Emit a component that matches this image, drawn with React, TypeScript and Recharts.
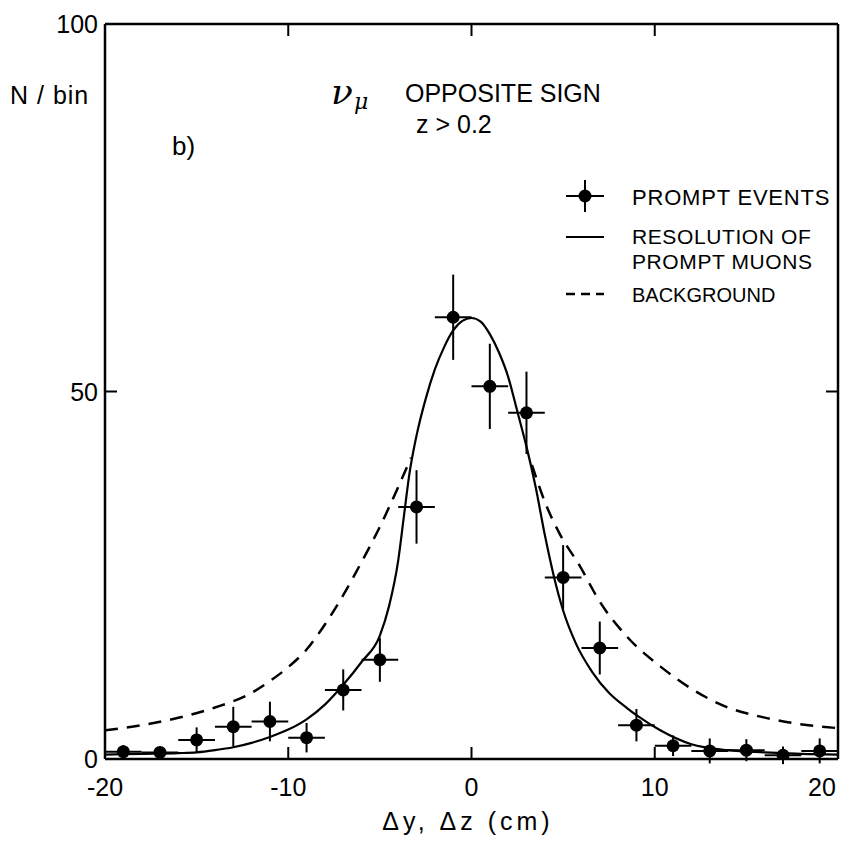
import React from "react";
import { ComposedChart, Line, Scatter, ErrorBar, XAxis, YAxis } from "recharts";

// prompt events, 2 cm bins
const binCenters = [-19, -17, -15, -13, -11, -9, -7, -5, -3, -1, 1, 3, 5, 7, 9, 11, 13, 15, 17, 19];
const promptCounts = [1.0, 0.9, 2.6, 4.4, 5.1, 2.9, 9.4, 13.5, 34.3, 60.1, 50.7, 47.1, 24.7, 15.1, 4.6, 1.8, 1.1, 1.2, 0.5, 1.1];
const countErrors = [0.9, 0.8, 1.7, 2.7, 2.7, 2.0, 2.8, 3.0, 5.0, 5.8, 5.8, 5.6, 4.4, 3.6, 2.2, 1.4, 1.7, 1.5, 1.2, 1.7];
const binHalfWidth = 1;

// resolution of prompt muons (solid)
const resolutionX = [-20, -18, -16, -15, -14, -13, -12, -11, -10, -9, -8, -7, -6, -5, -4.5, -4, -3.7, -3.4, -3, -2.5, -2, -1.5, -1, -0.5, 0, 0.5, 1, 1.5, 2, 2.5, 3, 3.5, 4, 4.5, 5, 5.7, 6.6, 7.5, 8.5, 9.1, 10.3, 12, 14, 16, 18, 20];
const resolutionY = [0.6, 0.7, 0.8, 0.9, 1.2, 1.6, 2.2, 3.0, 4.0, 5.4, 7.4, 10.1, 13.2, 16.8, 20.8, 27, 32.8, 38.6, 44, 49, 53, 56, 58.3, 59.6, 60, 59.5, 57.8, 55.3, 52, 47.3, 42.5, 37, 30.5, 24.8, 20.2, 15.7, 11.8, 9.0, 6.9, 5.8, 3.9, 2.0, 1.2, 0.9, 0.7, 0.6];

// background (dashed), hidden under the peak
const backgroundX = [-20, -18, -16, -14, -12, -11, -10, -9, -8, -7, -6, -5, -4, -3.3, 0, 3.3, 4, 4.8, 5.9, 7, 8.5, 10.3, 12.1, 13.9, 15.7, 17.5, 20];
const backgroundY = [3.9, 4.6, 5.6, 7.0, 9.0, 10.6, 12.5, 14.9, 18.3, 22.3, 26.8, 31.6, 37.0, 41.0, null, 40.0, 35.0, 30.7, 26.3, 21.4, 16.6, 12.6, 9.4, 7.1, 5.8, 4.9, 4.2];

const xTicks = [-20, -10, 0, 10, 20];
const yTicks = [0, 50, 100];

const events = binCenters.map((x, i) => ({ x, y: promptCounts[i], ey: countErrors[i], ex: binHalfWidth }));
const resolution = resolutionX.map((x, i) => ({ x, y: resolutionY[i] }));
const background = backgroundX.map((x, i) => ({ x, y: backgroundY[i] }));

const FONT = "'Liberation Sans', Arial, sans-serif";
const TICK = 12;

const BottomTick = (p: any) => {
  const v = p.payload.value;
  const dx = v === 20 ? -16 : 0;
  return (
    <g>
      {v !== -20 && v !== 20 && <line x1={p.x} x2={p.x} y1={p.y} y2={p.y - TICK} stroke="#000" strokeWidth={2} />}
      <text x={p.x + dx} y={p.y + 37} textAnchor="middle" fontFamily={FONT} fontSize={25} fill="#000">
        {v}
      </text>
    </g>
  );
};

const TopTick = (p: any) => {
  const v = p.payload.value;
  if (v === -20 || v === 20) return <g />;
  return <line x1={p.x} x2={p.x} y1={p.y} y2={p.y + TICK} stroke="#000" strokeWidth={2} />;
};

const LeftTick = (p: any) => (
  <g>
    <line x1={p.x} x2={p.x + TICK} y1={p.y} y2={p.y} stroke="#000" strokeWidth={2} />
    <text x={p.x - 7} y={p.y + 9} textAnchor="end" fontFamily={FONT} fontSize={25} fill="#000">
      {p.payload.value}
    </text>
  </g>
);

const RightTick = (p: any) => <line x1={p.x - TICK} x2={p.x} y1={p.y} y2={p.y} stroke="#000" strokeWidth={2} />;

const Dot = (p: any) => <circle cx={p.cx} cy={p.cy} r={6.5} fill="#000" />;

export default function App() {
  return (
    <div style={{ position: "absolute", left: 0, top: 0, width: 860, height: 845, background: "#fff" }}>
      <ComposedChart width={860} height={845} margin={{ top: 23, right: 21, bottom: 0, left: 0 }}>
        <XAxis xAxisId="x" dataKey="x" type="number" domain={[-20, 20]} ticks={xTicks} allowDataOverflow
          height={86} tickSize={0} tickMargin={0} tickLine={false} axisLine={{ stroke: "#000", strokeWidth: 2.5 }} tick={BottomTick} />
        <XAxis xAxisId="t" dataKey="x" type="number" orientation="top" domain={[-20, 20]} ticks={xTicks} allowDataOverflow
          height={1} tickSize={0} tickMargin={0} tickLine={false} axisLine={{ stroke: "#000", strokeWidth: 2.5 }} tick={TopTick} />
        <YAxis yAxisId="y" dataKey="y" type="number" domain={[0, 100]} ticks={yTicks} allowDataOverflow
          width={105} tickSize={0} tickMargin={0} tickLine={false} axisLine={{ stroke: "#000", strokeWidth: 2.5 }} tick={LeftTick} />
        <YAxis yAxisId="r" dataKey="y" type="number" orientation="right" domain={[0, 100]} ticks={[50]} allowDataOverflow
          width={1} tickSize={0} tickMargin={0} tickLine={false} axisLine={{ stroke: "#000", strokeWidth: 2.5 }} tick={RightTick} />

        <Line xAxisId="x" yAxisId="y" data={background} dataKey="y" type="monotone" stroke="#000" strokeWidth={2.5}
          strokeDasharray="13 9" dot={false} connectNulls={false} isAnimationActive={false} />
        <Line xAxisId="x" yAxisId="y" data={resolution} dataKey="y" type="monotone" stroke="#000" strokeWidth={2.2}
          dot={false} isAnimationActive={false} />
        <Scatter xAxisId="x" yAxisId="y" data={events} dataKey="y" shape={Dot} isAnimationActive={false}>
          <ErrorBar dataKey="ey" direction="y" width={0} stroke="#000" strokeWidth={2} />
          <ErrorBar dataKey="ex" direction="x" width={0} stroke="#000" strokeWidth={2} />
        </Scatter>
      </ComposedChart>

      <svg width={860} height={845} style={{ position: "absolute", left: 0, top: 0, pointerEvents: "none" }}>
        <g fontFamily={FONT} fill="#000">
          <text x={10} y={104} fontSize={25} letterSpacing={1}>N / bin</text>
          <text x={172} y={155} fontSize={26}>b)</text>
          <text x={331} y={104} fontSize={36} fontStyle="italic" fontFamily="'DejaVu Serif', serif">ν</text>
          <text x={354} y={109} fontSize={22} fontStyle="italic" fontFamily="'DejaVu Serif', serif">μ</text>
          <text x={405} y={102} fontSize={25}>OPPOSITE SIGN</text>
          <text x={416} y={133} fontSize={25}>z &gt; 0.2</text>

          <line x1={566} x2={604} y1={196} y2={196} stroke="#000" strokeWidth={2} />
          <line x1={585} x2={585} y1={180} y2={212} stroke="#000" strokeWidth={2} />
          <circle cx={585} cy={196} r={6.5} />
          <text x={632} y={205} fontSize={22} letterSpacing={0.8}>PROMPT EVENTS</text>

          <line x1={566} x2={604} y1={237} y2={237} stroke="#000" strokeWidth={2.2} />
          <text x={632} y={244} fontSize={21} letterSpacing={0.6}>RESOLUTION OF</text>
          <text x={632} y={269} fontSize={21} letterSpacing={0.6}>PROMPT MUONS</text>

          <line x1={566} x2={604} y1={294} y2={294} stroke="#000" strokeWidth={2.5} strokeDasharray="9 6" />
          <text x={632} y={302} fontSize={20}>BACKGROUND</text>

          <text x={468} y={830} fontSize={25} textAnchor="middle" letterSpacing={4}>Δy, Δz (cm)</text>
        </g>
      </svg>
    </div>
  );
}
